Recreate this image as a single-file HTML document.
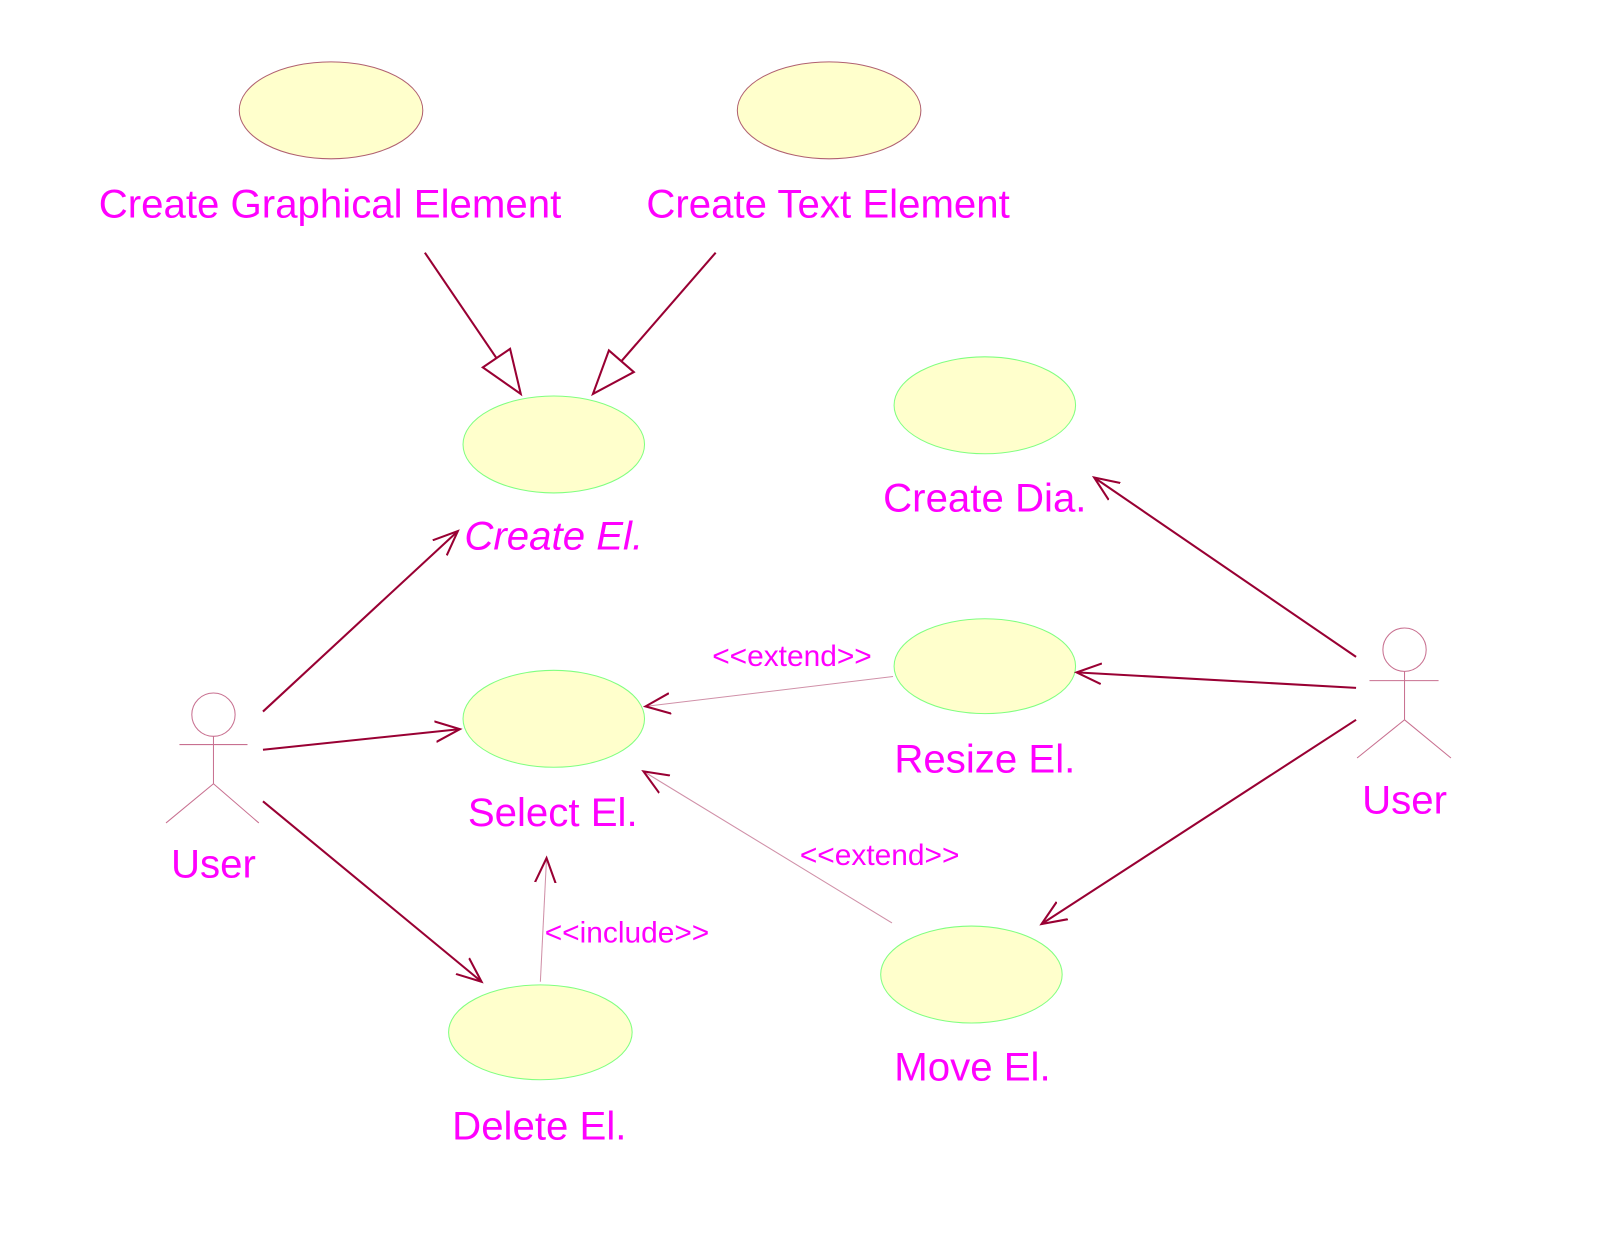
<!DOCTYPE html>
<html><head><meta charset="utf-8"><style>html,body{margin:0;padding:0;background:#fff;}svg{display:block}</style></head>
<body>
<svg width="1618" height="1254" viewBox="0 0 1569 1216" preserveAspectRatio="none" xmlns="http://www.w3.org/2000/svg">
<defs>
<marker id="open" markerWidth="30" markerHeight="30" refX="24" refY="10" orient="auto" markerUnits="userSpaceOnUse" viewBox="0 0 30 20">
<path d="M0,0 L24,10 L0,20" fill="none" stroke="#990033" stroke-width="2"/>
</marker>
<marker id="tri" markerWidth="50" markerHeight="40" refX="44" refY="18" orient="auto" markerUnits="userSpaceOnUse" viewBox="0 0 50 40">
<path d="M2,2 L44,18 L2,34 Z" fill="#fff" stroke="#990033" stroke-width="2"/>
</marker>
</defs>
<g fill="#ffffcc" stroke-width="1">
<ellipse cx="321" cy="107" rx="89" ry="47" stroke="#b06070"/>
<ellipse cx="804" cy="107" rx="89" ry="47" stroke="#b06070"/>
<ellipse cx="537" cy="431" rx="88" ry="47" stroke="#80ff80"/>
<ellipse cx="955" cy="393" rx="88" ry="47" stroke="#80ff80"/>
<ellipse cx="537" cy="697" rx="88" ry="47" stroke="#80ff80"/>
<ellipse cx="955" cy="646" rx="88" ry="46" stroke="#80ff80"/>
<ellipse cx="524" cy="1001" rx="89" ry="46" stroke="#80ff80"/>
<ellipse cx="942" cy="945" rx="88" ry="47" stroke="#80ff80"/>
</g>
<g stroke="#990033" stroke-width="2" fill="none">
<line x1="412" y1="245" x2="505" y2="382" marker-end="url(#tri)"/>
<line x1="694" y1="245" x2="575" y2="382" marker-end="url(#tri)"/>
<line x1="255" y1="690" x2="444" y2="515" marker-end="url(#open)"/>
<line x1="255" y1="727" x2="446" y2="707" marker-end="url(#open)"/>
<line x1="255" y1="777" x2="467" y2="952" marker-end="url(#open)"/>
<line x1="1315" y1="637" x2="1061" y2="463" marker-end="url(#open)"/>
<line x1="1315" y1="667" x2="1044" y2="652" marker-end="url(#open)"/>
<line x1="1315" y1="698" x2="1010" y2="896" marker-end="url(#open)"/>
</g>
<g stroke="#d090a8" stroke-width="1" fill="none">
<line x1="866" y1="656" x2="626" y2="685" marker-end="url(#open)"/>
<line x1="865" y1="895" x2="624" y2="748" marker-end="url(#open)"/>
<line x1="524" y1="952" x2="530" y2="832" marker-end="url(#open)"/>
</g>
<g stroke="#c87090" stroke-width="1" fill="none">
<circle cx="207" cy="693" r="21"/>
<line x1="174" y1="722" x2="240" y2="722"/>
<line x1="207" y1="714" x2="207" y2="760"/>
<line x1="207" y1="760" x2="161" y2="798"/>
<line x1="207" y1="760" x2="251" y2="798"/>
<circle cx="1362" cy="630" r="21"/>
<line x1="1328" y1="660" x2="1395" y2="660"/>
<line x1="1362" y1="651" x2="1362" y2="698"/>
<line x1="1362" y1="698" x2="1316" y2="735"/>
<line x1="1362" y1="698" x2="1407" y2="735"/>
</g>
<g font-family="Liberation Sans, sans-serif" fill="#ff00ff" font-size="39" text-anchor="middle">
<text x="320" y="211">Create Graphical Element</text>
<text x="803" y="211">Create Text Element</text>
<text x="537" y="533" font-style="italic">Create El.</text>
<text x="955" y="496">Create Dia.</text>
<text x="955" y="749">Resize El.</text>
<text x="536" y="801">Select El.</text>
<text x="207" y="851">User</text>
<text x="1362" y="789">User</text>
<text x="523" y="1105">Delete El.</text>
<text x="943" y="1048">Move El.</text>
<g font-size="29">
<text x="768" y="646">&lt;&lt;extend&gt;&gt;</text>
<text x="853" y="839">&lt;&lt;extend&gt;&gt;</text>
<text x="608" y="914">&lt;&lt;include&gt;&gt;</text>
</g>
</g>
</svg>
</body></html>
